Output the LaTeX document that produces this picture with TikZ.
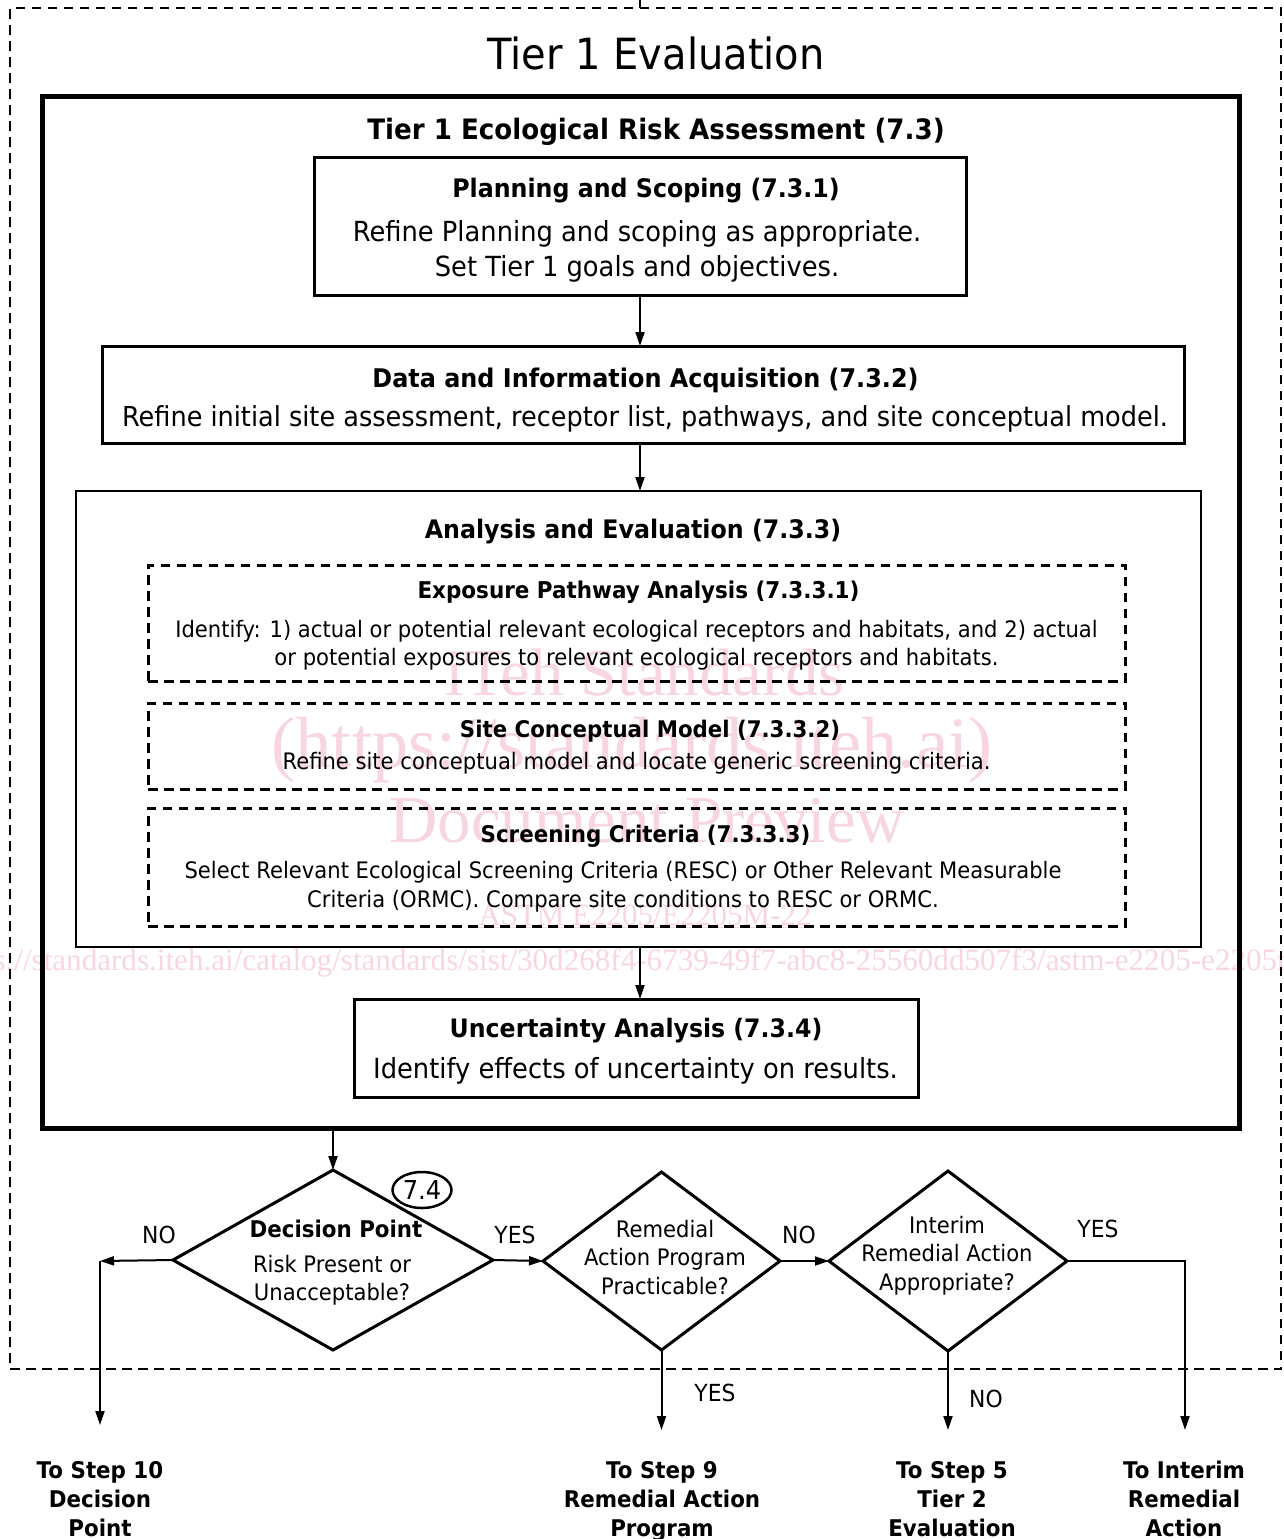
\documentclass[tikz,border=0pt]{standalone}
\usepackage{fontspec}
\setmainfont{DejaVu Sans}[FakeStretch=0.93]
\newfontfamily\wmfont{Liberation Serif}
\usetikzlibrary{arrows.meta,shapes.geometric}
\definecolor{wmpink}{RGB}{248,214,224}
% centred lines whose reference point is the baseline of the first line
\newcommand\stack[1]{\vtop{\halign{\hfil##\hfil\cr#1\crcr}}}
\newcommand\fsz[2]{\fontsize{#1}{#2}\selectfont}
\begin{document}
\begin{tikzpicture}[x=1pt,y=-1pt,
  every node/.style={inner sep=0pt, outer sep=0pt},
  boxframe/.style={draw, rectangle, line width=#1},
  dashframe/.style={draw, rectangle, line width=#1, dash pattern=on 9.5pt off 6.5pt},
  decision/.style={draw, diamond, line width=3pt, aspect=1},
  arr/.style={line width=2pt, -{Triangle[length=14pt,width=9pt]}},
  txt/.style={anchor=base, font=\fsz{#1}{1.2\dimexpr#1pt\relax}},
  btxt/.style={anchor=base, font=\bfseries\fsz{#1}{1.2\dimexpr#1pt\relax}},
  wmtxt/.style={anchor=base, text=wmpink, font=\wmfont\fsz{#1}{#1}},
]
\useasboundingbox (0,0) rectangle (1283,1539);

% faint preview watermark underneath the diagram
\node[wmtxt=67] (wm1) at (645,695) {iTeh Standards};
\node[wmtxt=72.5] (wm2) at (632,767) {(https://standards.iteh.ai)};
\node[wmtxt=67] (wm3) at (647,842) {Document Preview};
\node[wmtxt=31] (wm4) at (645,925) {\underline{ASTM E2205/E2205M-22}};
\node[wmtxt=31.1] (wm5) at (644,970) {https://standards.iteh.ai/catalog/standards/sist/30d268f4-6739-49f7-abc8-25560dd507f3/astm-e2205-e2205m-22};

% frames
\node[dashframe=2.5pt, minimum width=1271pt, minimum height=1361pt] (tier) at (645.5,688.5) {};
\node[boxframe=5pt, minimum width=1197pt, minimum height=1032pt] (era) at (640.5,612) {};
\node[boxframe=3pt, minimum width=652pt, minimum height=138pt] (plan) at (640,226) {};
\node[boxframe=3pt, minimum width=1082pt, minimum height=97pt] (data) at (643,394.5) {};
\node[boxframe=2.5pt, minimum width=1125pt, minimum height=456pt] (anal) at (638.5,719) {};
\node[dashframe=3pt, minimum width=977pt, minimum height=116pt] (expo) at (636.5,623) {};
\node[dashframe=3pt, minimum width=977pt, minimum height=86pt] (scm) at (636.5,746) {};
\node[dashframe=3pt, minimum width=977pt, minimum height=118pt] (scr) at (636.5,867) {};
\node[boxframe=3pt, minimum width=564pt, minimum height=98pt] (unc) at (636,1048) {};

% decisions
\node[decision, minimum width=320pt, minimum height=180pt] (d1) at (333,1260) {};
\node[decision, minimum width=237pt, minimum height=178pt] (d2) at (661.5,1261) {};
\node[decision, minimum width=238pt, minimum height=180pt] (d3) at (948,1261) {};
\node[draw, ellipse, line width=2.5pt, minimum width=59pt, minimum height=36pt, font=\fsz{26}{32}] (sec) at (422,1190) {7.4};

% texts
\node[txt=43] (title) at (656,69) {Tier 1 Evaluation};
\node[btxt=28.1] (eraT) at (656,139) {Tier 1 Ecological Risk Assessment (7.3)};
\node[btxt=25.5] (planT) at (646,197) {Planning and Scoping (7.3.1)};
\node[anchor=base, font=\fsz{27.7}{34.5}] (planB) at (637,241.7) {\stack{Refine Planning and scoping as appropriate.\cr Set Tier 1 goals and objectives.}};
\node[btxt=25.7] (dataT) at (645.5,387) {Data and Information Acquisition (7.3.2)};
\node[txt=27.5] (dataB) at (645,426) {Refine initial site assessment, receptor list, pathways, and site conceptual model.};
\node[btxt=25.5] (analT) at (633,538) {Analysis and Evaluation (7.3.3)};
\node[btxt=23.1] (expoT) at (638.5,598) {Exposure Pathway Analysis (7.3.3.1)};
\node[anchor=base, font=\fsz{22.7}{28.5}] (expoB) at (636.5,637) {\stack{Identify: 1) actual or potential relevant ecological receptors and habitats, and 2) actual\cr or potential exposures to relevant ecological receptors and habitats.}};
\node[btxt=22.9] (scmT) at (650,737) {Site Conceptual Model (7.3.3.2)};
\node[txt=22.7] (scmB) at (636.5,769) {Refine site conceptual model and locate generic screening criteria.};
\node[btxt=23] (scrT) at (645.5,842) {Screening Criteria (7.3.3.3)};
\node[anchor=base, font=\fsz{22.7}{29}] (scrB) at (623,878) {\stack{Select Relevant Ecological Screening Criteria (RESC) or Other Relevant Measurable\cr Criteria (ORMC). Compare site conditions to RESC or ORMC.}};
\node[btxt=25.4] (uncT) at (636,1037) {Uncertainty Analysis (7.3.4)};
\node[txt=27.7] (uncB) at (635.5,1078) {Identify effects of uncertainty on results.};

\node[btxt=23] (d1T) at (336,1237) {Decision Point};
\node[anchor=base, font=\fsz{22.7}{28.5}] (d1B) at (332,1272) {\stack{Risk Present or\cr Unacceptable?}};
\node[anchor=base, font=\fsz{22.7}{28.5}] (d2B) at (665,1237) {\stack{Remedial\cr Action Program\cr Practicable?}};
\node[anchor=base, font=\fsz{22.7}{28.5}] (d3B) at (947,1233) {\stack{Interim\cr Remedial Action\cr Appropriate?}};

\node[txt=23.5] (no1) at (159,1243) {NO};
\node[txt=23.5] (yes1) at (515,1243) {YES};
\node[txt=23.5] (no2) at (799,1243) {NO};
\node[txt=23.5] (yes3) at (1098,1237) {YES};
\node[txt=23.5] (yes2) at (715,1401) {YES};
\node[txt=23.5] (no3) at (986,1407) {NO};

\node[anchor=base, font=\bfseries\fsz{23}{29}] (to10) at (100,1478) {\stack{To Step 10\cr Decision\cr Point}};
\node[anchor=base, font=\bfseries\fsz{23}{29}] (to9) at (662,1478) {\stack{To Step 9\cr Remedial Action\cr Program}};
\node[anchor=base, font=\bfseries\fsz{23}{29}] (to5) at (952,1478) {\stack{To Step 5\cr Tier 2\cr Evaluation}};
\node[anchor=base, font=\bfseries\fsz{23}{29}] (toI) at (1184,1478) {\stack{To Interim\cr Remedial\cr Action}};

% connectors
\coordinate (src) at (640,-6);
\coordinate (c10) at (100,1261);
\coordinate (e10) at (100,1425);
\coordinate (e9) at (661.5,1430);
\coordinate (e5) at (948,1430);
\coordinate (cI) at (1185,1261);
\coordinate (eI) at (1185,1430);

\draw[line width=2pt] (src) -- (src |- tier.north);
\draw[arr] (plan.south -| src) -- (data.north -| src);
\draw[arr] (data.south -| src) -- (anal.north -| src);
\draw[arr] (anal.south -| src) -- (unc.north -| src);
\draw[arr] (era.south -| d1.north) -- (d1.north);
\draw[arr] (d1.west) -- (c10);
\draw[arr] (c10) -- (e10);
\draw[arr] (d1.east) -- (d2.west);
\draw[arr] (d2.east) -- (d3.west);
\draw[arr] (d2.south) -- (e9);
\draw[arr] (d3.south) -- (e5);
\draw[arr] (d3.east) -- (cI) -- (eI);
\end{tikzpicture}
\end{document}
